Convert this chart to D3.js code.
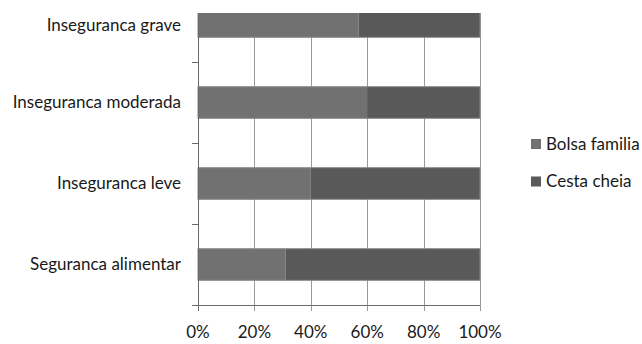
<!DOCTYPE html>
<html>
<head>
<meta charset="utf-8">
<script src="https://cdn.jsdelivr.net/npm/d3@7"></script>
<style>
  html, body { margin: 0; padding: 0; background: #fff; }
  svg { display: block; }
  text { font-family: Lato, "Open Sans", sans-serif; fill: #1a1a1a; }
</style>
</head>
<body>
<svg id="chart" width="642" height="344"></svg>
<script>
// Food security categories (top to bottom) and share per programme (%)
const categories = ["Inseguranca grave", "Inseguranca moderada", "Inseguranca leve", "Seguranca alimentar"];
const seriesNames = ["Bolsa familia", "Cesta cheia"];
const bolsaFamilia = [57, 60, 40, 31];
const cestaCheia = [43, 40, 60, 69];
const xTicks = [0, 20, 40, 60, 80, 100];

const colors = { "Bolsa familia": "#717171", "Cesta cheia": "#595959" };

const svg = d3.select("#chart");
const left = 198, right = 480, bottom = 305, visibleTop = 13;
const bandStep = 81;
const fontSize = 17;

const x = d3.scaleLinear().domain([0, 100]).range([left, right]);
const y = d3.scaleBand()
  .domain(categories)
  .range([bottom - bandStep * categories.length, bottom])
  .paddingInner(0.61).paddingOuter(0.305);

const rows = categories.map((c, i) => ({ cat: c, "Bolsa familia": bolsaFamilia[i], "Cesta cheia": cestaCheia[i] }));
const stacked = d3.stack().keys(seriesNames)(rows);

svg.append("clipPath").attr("id", "plotClip")
  .append("rect").attr("x", left - 8).attr("y", visibleTop)
  .attr("width", right - left + 16).attr("height", bottom - visibleTop + 8);

const plot = svg.append("g").attr("clip-path", "url(#plotClip)");

// vertical gridlines
plot.append("g").selectAll("line").data(xTicks.slice(1)).join("line")
  .attr("x1", d => Math.round(x(d)) + 0.5).attr("x2", d => Math.round(x(d)) + 0.5)
  .attr("y1", visibleTop).attr("y2", bottom + 6)
  .attr("stroke", "#9a9a9a").attr("stroke-width", 1);

// stacked bars
plot.append("g").selectAll("g").data(stacked).join("g")
  .attr("fill", d => colors[d.key])
  .selectAll("rect").data(d => d).join("rect")
  .attr("x", d => x(d[0]))
  .attr("width", d => x(d[1]) - x(d[0]))
  .attr("y", d => y(d.data.cat))
  .attr("height", y.bandwidth());

// light outline around each full bar
plot.append("g").selectAll("rect").data(rows).join("rect")
  .attr("x", x(0)).attr("width", x(100) - x(0))
  .attr("y", d => y(d.cat)).attr("height", y.bandwidth())
  .attr("fill", "none").attr("stroke", "#8a8a8a").attr("stroke-width", 1);

// category axis line and band separators
const axisG = svg.append("g").attr("stroke", "#6a6a6a");
axisG.append("line").attr("x1", left + 0.5).attr("x2", left + 0.5)
  .attr("y1", visibleTop).attr("y2", bottom + 6);
const bandEdges = categories.map(c => y(c) - y.step() * y.paddingInner() / 2).slice(1).concat([bottom]);
axisG.selectAll("line.sep").data(bandEdges).join("line").attr("class", "sep")
  .attr("x1", left - 6).attr("x2", left)
  .attr("y1", d => Math.round(d) + 0.5).attr("y2", d => Math.round(d) + 0.5);
axisG.append("line").attr("x1", left).attr("x2", right)
  .attr("y1", bottom + 0.5).attr("y2", bottom + 0.5);

// category labels
svg.append("g").selectAll("text").data(categories).join("text")
  .attr("x", 181).attr("y", d => Math.max(y(d) + y.bandwidth() / 2, visibleTop + 12))
  .attr("dy", "0.35em").attr("text-anchor", "end")
  .attr("font-size", fontSize).text(d => d);

// percentage axis labels
svg.append("g").selectAll("text").data(xTicks).join("text")
  .attr("x", d => x(d)).attr("y", 332).attr("dy", "0.35em")
  .attr("text-anchor", "middle").attr("font-size", fontSize)
  .text(d => d + "%");

// legend
const legend = svg.append("g").selectAll("g").data(seriesNames).join("g")
  .attr("transform", (d, i) => `translate(531, ${144 + i * 37.5})`);
legend.append("rect").attr("x", 0).attr("y", -5).attr("width", 10).attr("height", 10)
  .attr("fill", d => colors[d]);
legend.append("text").attr("x", 15).attr("dy", "0.35em").attr("font-size", fontSize).text(d => d);
</script>
</body>
</html>
